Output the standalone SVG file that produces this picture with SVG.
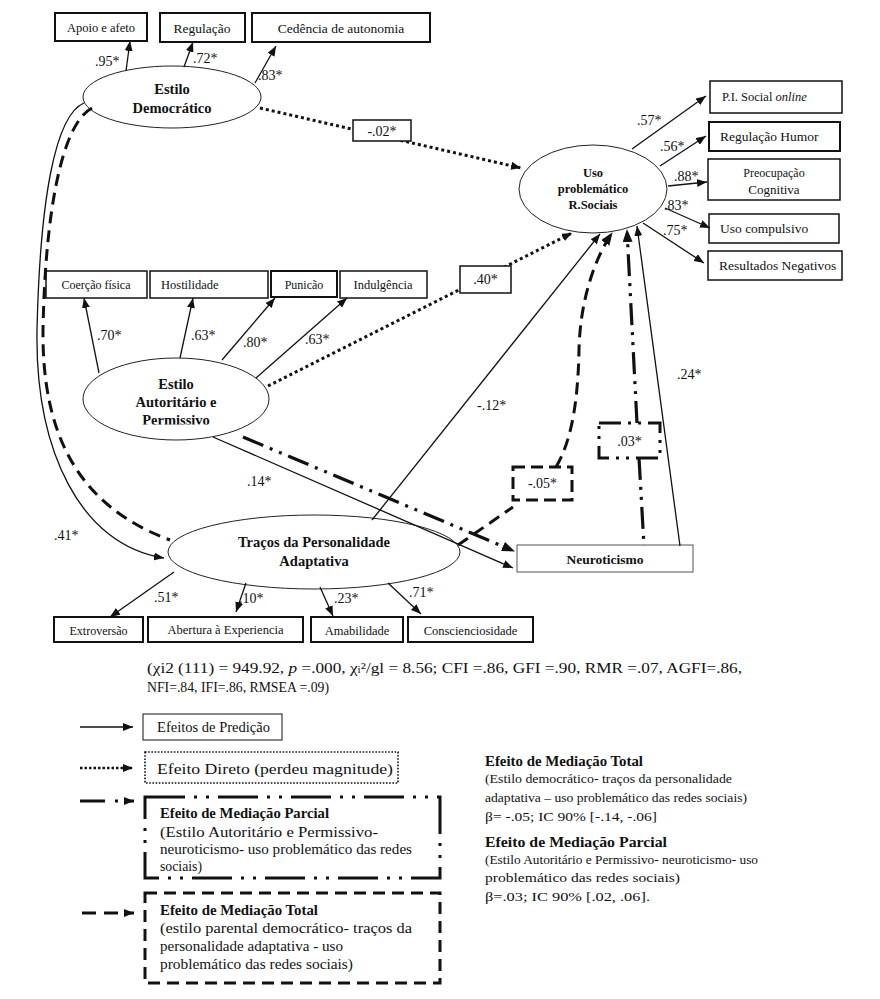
<svg xmlns="http://www.w3.org/2000/svg" width="880" height="999" viewBox="0 0 880 999">
<style>
text{font-family:"Liberation Serif","DejaVu Serif",serif;fill:#111}
.lb{font-size:12.5px;text-anchor:middle}
.ls{font-size:12.5px}
.bd{font-weight:bold;text-anchor:middle;font-size:14.5px}
.cf{font-size:14px}
.bx{fill:#fff;stroke:#111;stroke-width:1.5}
.bx2{fill:#fff;stroke:#111;stroke-width:2}
.el{fill:#fff;stroke:#222;stroke-width:1}
.s{fill:none;stroke:#111;stroke-width:1.3}
.dot{fill:none;stroke:#111;stroke-width:3;stroke-dasharray:3 3}
.dsh{fill:none;stroke:#111;stroke-width:3;stroke-dasharray:12 7}
.dd{fill:none;stroke:#111;stroke-width:3.2;stroke-dasharray:22 7 3 7 3 7}
.lg{font-size:14px}
</style>
<defs>
<marker id="a" markerUnits="userSpaceOnUse" markerWidth="10" markerHeight="8" refX="10" refY="4" orient="auto"><path d="M0,0 L10,4 L0,8 z" fill="#111"/></marker>
<marker id="b" markerUnits="userSpaceOnUse" markerWidth="13" markerHeight="10" refX="12" refY="5" orient="auto"><path d="M0,0 L13,5 L0,10 z" fill="#111"/></marker>
<clipPath id="pc"><rect x="80" y="360" width="200" height="64.5"/></clipPath>
</defs>
<rect width="880" height="999" fill="#fff"/>

<g id="nodes">
<g id="apoio"><rect x="55" y="13" width="92" height="28" class="bx2"/><text x="101" y="32" class="lb" font-size="11.5">Apoio e afeto</text></g>
<g id="regulacao"><rect x="160" y="13" width="85" height="29" class="bx2"/><text x="202" y="33" class="lb" style="font-size:13.5px">Regulação</text></g>
<g id="cedencia"><rect x="252" y="13" width="178" height="29" class="bx2"/><text x="341" y="33" class="lb" style="font-size:13.5px">Cedência de autonomia</text></g>
<g id="democratico"><ellipse cx="172" cy="97" rx="89" ry="31" class="el"/><text x="172" y="94" class="bd">Estilo</text><text x="172" y="113" class="bd">Democrático</text></g>
<g id="uso"><ellipse cx="593" cy="189" rx="74" ry="44" class="el"/><text x="593" y="177" class="bd" style="font-size:12.5px">Uso</text><text x="593" y="193" class="bd" style="font-size:12.5px">problemático</text><text x="593" y="209" class="bd" style="font-size:12.5px">R.Sociais</text></g>
<g id="pi"><rect x="710" y="81" width="132" height="32" class="bx"/><text x="722" y="101" class="ls">P.I. Social <tspan font-style="italic">online</tspan></text></g>
<g id="humor"><rect x="709" y="122" width="131" height="29" class="bx2"/><text x="720" y="141" class="ls" style="font-size:13.5px">Regulação Humor</text></g>
<g id="preocupacao"><rect x="708" y="159" width="132" height="41" class="bx"/><text x="774" y="177" class="lb" style="font-size:12px">Preocupação</text><text x="774" y="194" class="lb" style="font-size:13px">Cognitiva</text></g>
<g id="compulsivo"><rect x="709" y="214" width="130" height="29" class="bx"/><text x="720" y="233" class="ls" style="font-size:13.5px">Uso compulsivo</text></g>
<g id="resultados"><rect x="708" y="251" width="134" height="29" class="bx"/><text x="719" y="270" class="ls" style="font-size:13.5px">Resultados Negativos</text></g>
<g id="coercao"><rect x="46" y="271" width="101" height="27" class="bx"/><text x="96" y="289" class="lb" style="font-size:12px">Coerção física</text></g>
<g id="hostilidade"><rect x="150" y="271" width="118" height="27" class="bx"/><text x="161" y="289" class="ls" style="font-size:12.5px">Hostilidade</text></g>
<g id="punicao"><rect x="271" y="271" width="66" height="26" class="bx2"/><text x="304" y="289" class="lb" style="font-size:12px">Punicão</text></g>
<g id="indulgencia"><rect x="340" y="271" width="87" height="27" class="bx"/><text x="383" y="289" class="lb" style="font-size:12.5px">Indulgência</text></g>
<g id="autoritario"><ellipse cx="176" cy="399" rx="93" ry="41" class="el"/><text x="176" y="389" class="bd">Estilo</text><text x="176" y="407" class="bd">Autoritário e</text><text x="176" y="425" class="bd" clip-path="url(#pc)">Permissivo</text></g>
<g id="tracos"><ellipse cx="314" cy="552" rx="146" ry="37" class="el"/><text x="314" y="547" class="bd">Traços da Personalidade</text><text x="314" y="566" class="bd">Adaptativa</text></g>
<g id="neuroticismo"><rect x="517" y="545" width="176" height="27" fill="#fff" stroke="#555" stroke-width="1"/><text x="605" y="564" class="bd" style="font-size:13.5px">Neuroticismo</text></g>
<g id="extroversao"><rect x="54" y="617" width="89" height="25" class="bx2"/><text x="98.5" y="635" class="lb" style="font-size:12px">Extroversão</text></g>
<g id="abertura"><rect x="148" y="617" width="155" height="25" class="bx2"/><text x="225.5" y="634" class="lb" style="font-size:12.5px">Abertura à Experiencia</text></g>
<g id="amabilidade"><rect x="311" y="617" width="92" height="25" class="bx2"/><text x="357" y="635" class="lb" style="font-size:12.5px">Amabilidade</text></g>
<g id="conscienciosidade"><rect x="408" y="617" width="125" height="25" class="bx2"/><text x="470.5" y="635" class="lb" style="font-size:12.5px">Conscienciosidade</text></g>
</g>

<g id="connectors">
<path d="M126,71 L130,41" class="s" marker-end="url(#a)"/>
<path d="M184,67 L193,42" class="s" marker-end="url(#a)"/>
<path d="M255,83 L276,46" class="s" marker-end="url(#a)"/>
<path d="M260,108 L521,168" class="dot" marker-end="url(#a)"/>
<path d="M632,149 L706,96" class="s" marker-end="url(#a)"/>
<path d="M660,166 L706,136" class="s" marker-end="url(#a)"/>
<path d="M668,186 L707,182" class="s" marker-end="url(#a)"/>
<path d="M665,208 L710,228" class="s" marker-end="url(#a)"/>
<path d="M643,223 L704,263" class="s" marker-end="url(#a)"/>
<path d="M99,373 L84,298" class="s" marker-end="url(#a)"/>
<path d="M180,358 L193,298" class="s" marker-end="url(#a)"/>
<path d="M222,360 L275,298" class="s" marker-end="url(#a)"/>
<path d="M256,378 L347,298" class="s" marker-end="url(#a)"/>
<path d="M268,386 L572,233" class="dot" marker-end="url(#a)"/>
<path d="M372,520 L600,234" class="s" marker-end="url(#a)"/>
<path d="M458,545 L513,507" class="dsh"/>
<path d="M556,467 C572,440 578,400 579,350 C580,300 595,258 612,233" class="dsh" marker-end="url(#b)"/>
<path d="M637,423 L627,230" class="dd" marker-end="url(#b)"/>
<path d="M639,458 L644,546" class="dd"/>
<path d="M680,546 L637,226" class="s" marker-end="url(#a)"/>
<path d="M213,437 L513,568" class="s" marker-end="url(#a)"/>
<path d="M243,437 L514,551" class="dd" marker-end="url(#b)"/>
<path d="M84,103 C55,115 40,200 37,330 C35,450 80,545 164,558" class="s" marker-end="url(#a)"/>
<path d="M92,108 C60,125 45,220 43,330 C42,430 75,505 170,540" class="dsh"/>
<path d="M174,572 L110,617" class="s" marker-end="url(#a)"/>
<path d="M246,583 L236,612" class="s" marker-end="url(#a)"/>
<path d="M320,587 L333,616" class="s" marker-end="url(#a)"/>
<path d="M388,583 L421,614" class="s" marker-end="url(#a)"/>
</g>

<g id="edge-labels">
<text x="95" y="66" class="cf">.95*</text>
<text x="193" y="63" class="cf">.72*</text>
<text x="258" y="80" class="cf">.83*</text>
<rect x="353" y="120" width="58" height="21" class="bx"/><text x="382" y="136" class="cf" text-anchor="middle">-.02*</text>
<text x="637" y="125" class="cf">.57*</text>
<text x="660" y="151" class="cf">.56*</text>
<text x="674" y="181" class="cf">.88*</text>
<text x="664" y="210" class="cf">.83*</text>
<text x="663" y="235" class="cf">.75*</text>
<text x="97" y="340" class="cf">.70*</text>
<text x="191" y="340" class="cf">.63*</text>
<text x="243" y="347" class="cf">.80*</text>
<text x="305" y="344" class="cf">.63*</text>
<rect x="460" y="266" width="51" height="27" class="bx"/><text x="485.5" y="284" class="cf" text-anchor="middle">.40*</text>
<text x="477" y="410" class="cf">-.12*</text>
<text x="677" y="379" class="cf">.24*</text>
<rect x="513" y="467" width="59" height="33" fill="#fff" stroke="#111" stroke-width="3" stroke-dasharray="12 6"/><text x="542.5" y="488" class="cf" text-anchor="middle">-.05*</text>
<rect x="599" y="423" width="61" height="35" fill="#fff" stroke="#111" stroke-width="3" stroke-dasharray="22 7 3 7 3 7"/><text x="629.5" y="446" class="cf" text-anchor="middle">.03*</text>
<text x="247" y="486" class="cf">.14*</text>
<text x="54" y="540" class="cf">.41*</text>
<text x="154" y="602" class="cf">.51*</text>
<text x="239" y="603" class="cf">.10*</text>
<text x="334" y="603" class="cf">.23*</text>
<text x="409" y="597" class="cf">.71*</text>
</g>

<g id="fit">
<text x="147" y="673" font-size="15" textLength="595" lengthAdjust="spacingAndGlyphs">(χi2 (111) = 949.92, <tspan font-style="italic">p</tspan> =.000, χ<tspan font-size="10">i</tspan>²/gl = 8.56; CFI =.86, GFI =.90, RMR =.07, AGFI=.86,</text>
<text x="147" y="692" font-size="15" textLength="182" lengthAdjust="spacingAndGlyphs">NFI=.84, IFI=.86, RMSEA =.09)</text>
</g>

<g id="legend">
<path d="M80,727 L133,727" class="s" marker-end="url(#a)"/>
<rect x="143" y="714" width="139" height="26" fill="#fff" stroke="#111" stroke-width="1"/>
<text x="157" y="732" class="lg" textLength="113" lengthAdjust="spacingAndGlyphs">Efeitos de Predição</text>
<path d="M80,768 L133,768" fill="none" stroke="#111" stroke-width="2.5" stroke-dasharray="2.5 2" marker-end="url(#a)"/>
<rect x="145" y="752" width="253" height="31" fill="#fff" stroke="#111" stroke-width="1.6" stroke-dasharray="1.6 1.6"/>
<text x="157" y="774" class="lg" textLength="236" lengthAdjust="spacingAndGlyphs">Efeito Direto (perdeu magnitude)</text>
<path d="M80,801 L134,801" fill="none" stroke="#111" stroke-width="3.2" stroke-dasharray="25 10 3 10" marker-end="url(#a)"/>
<rect x="145" y="797" width="295" height="81" fill="#fff" stroke="#111" stroke-width="3" stroke-dasharray="40 9 3 9 3 9"/>
<text x="160" y="818" class="lg" font-weight="bold" textLength="169" lengthAdjust="spacingAndGlyphs">Efeito de Mediação Parcial</text>
<text x="160" y="837" class="lg" textLength="218" lengthAdjust="spacingAndGlyphs">(Estilo Autoritário e Permissivo-</text>
<text x="160" y="854" class="lg" textLength="252" lengthAdjust="spacingAndGlyphs">neuroticismo- uso problemático das redes</text>
<text x="160" y="871" class="lg" textLength="42" lengthAdjust="spacingAndGlyphs">sociais)</text>
<path d="M82,913 L134,913" fill="none" stroke="#111" stroke-width="3.2" stroke-dasharray="14 8" marker-end="url(#a)"/>
<rect x="145" y="893" width="295" height="90" fill="#fff" stroke="#111" stroke-width="3" stroke-dasharray="12 7"/>
<text x="160" y="915" class="lg" font-weight="bold" textLength="158" lengthAdjust="spacingAndGlyphs">Efeito de Mediação Total</text>
<text x="160" y="933" class="lg" textLength="252" lengthAdjust="spacingAndGlyphs">(estilo parental democrático- traços da</text>
<text x="160" y="951" class="lg" textLength="183" lengthAdjust="spacingAndGlyphs">personalidade adaptativa - uso</text>
<text x="160" y="969" class="lg" textLength="193" lengthAdjust="spacingAndGlyphs">problemático das redes sociais)</text>
</g>

<g id="notes">
<text x="485" y="766" class="lg" font-weight="bold" textLength="158" lengthAdjust="spacingAndGlyphs">Efeito de Mediação Total</text>
<text x="485" y="783" font-size="13.5" textLength="247" lengthAdjust="spacingAndGlyphs">(Estilo democrático- traços da personalidade</text>
<text x="485" y="802" font-size="13.5" textLength="262" lengthAdjust="spacingAndGlyphs">adaptativa – uso problemático das redes sociais)</text>
<text x="485" y="821" font-size="13.5" textLength="172" lengthAdjust="spacingAndGlyphs">β= -.05; IC 90% [-.14, -.06]</text>
<text x="485" y="847" class="lg" font-weight="bold" textLength="182" lengthAdjust="spacingAndGlyphs">Efeito de Mediação Parcial</text>
<text x="485" y="864" font-size="13.5" textLength="273" lengthAdjust="spacingAndGlyphs">(Estilo Autoritário e Permissivo- neuroticismo- uso</text>
<text x="485" y="882" font-size="13.5" textLength="195" lengthAdjust="spacingAndGlyphs">problemático das redes sociais)</text>
<text x="485" y="901" font-size="13.5" textLength="165" lengthAdjust="spacingAndGlyphs">β=.03; IC 90% [.02, .06].</text>
</g>
</svg>
